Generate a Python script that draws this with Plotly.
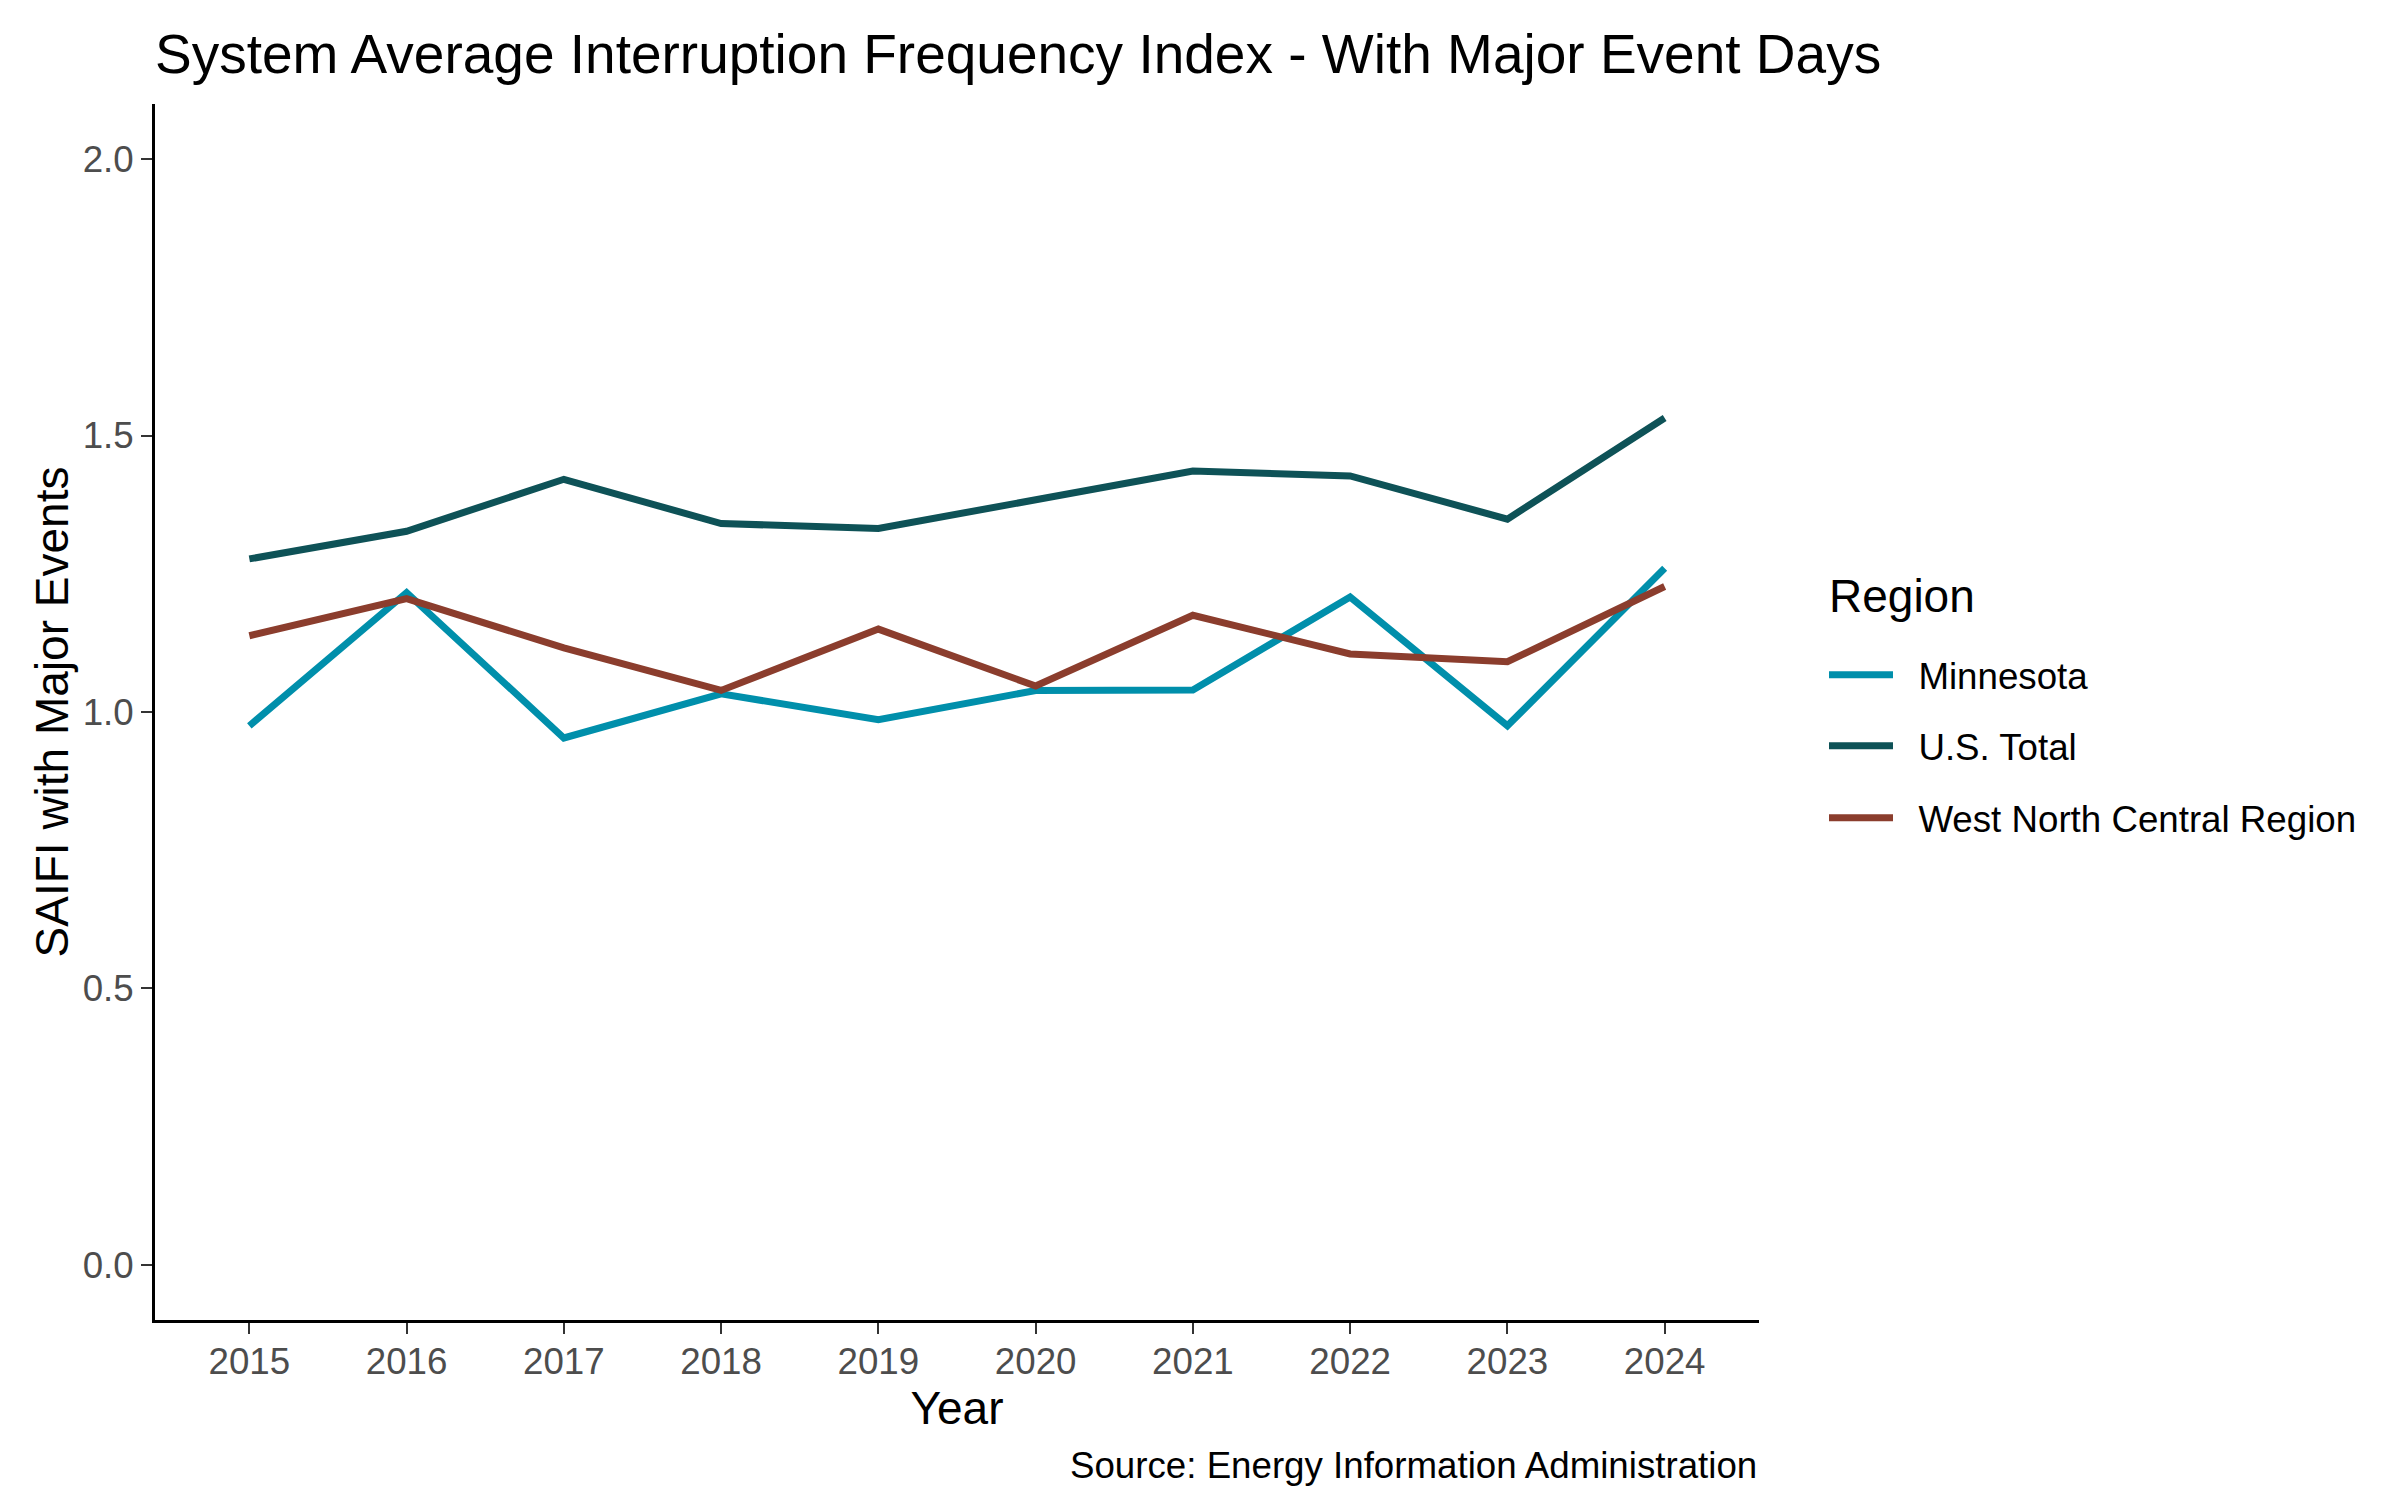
import plotly.graph_objects as go

years = [2015, 2016, 2017, 2018, 2019, 2020, 2021, 2022, 2023, 2024]
minnesota = [0.975, 1.216, 0.953, 1.033, 0.986, 1.039, 1.040, 1.208, 0.975, 1.260]
us_total = [1.277, 1.327, 1.421, 1.341, 1.332, 1.385, 1.436, 1.427, 1.349, 1.532]
west_north_central = [1.138, 1.205, 1.116, 1.039, 1.150, 1.047, 1.175, 1.105, 1.091, 1.227]

series_names = ["Minnesota", "U.S. Total", "West North Central Region"]
series_values = [minnesota, us_total, west_north_central]
series_colors = ["#008FAB", "#0E5257", "#8B3D2D"]

y_ticks = [0.0, 0.5, 1.0, 1.5, 2.0]
y_tick_labels = ["0.0", "0.5", "1.0", "1.5", "2.0"]

FONT = "Liberation Sans, Arial, Helvetica, sans-serif"

W, H = 2400, 1500
ml, mr, mt, mb = 147, 649, 96, 188
pw, ph = W - ml - mr, H - mt - mb

def py(pix_y):
    return (H - mb - pix_y) / ph

def px(pix_x):
    return (pix_x - ml) / pw

legend_ids = ["legend", "legend2", "legend3"]
legend_centers = [667, 738, 810]
NB = "\u00a0\u00a0"

fig = go.Figure()
for name, vals, col, lid in zip(series_names, series_values, series_colors, legend_ids):
    fig.add_trace(go.Scatter(
        x=years, y=vals, mode="lines", name=NB + name,
        line=dict(color=col, width=7),
        legend=lid,
        hovertemplate=name + "<br>%{x}: %{y}<extra></extra>",
    ))

legend_common = dict(
    font=dict(size=36.7, color="black", family=FONT),
    xanchor="left", yanchor="middle",
    bgcolor="rgba(0,0,0,0)",
    itemwidth=64,
    borderwidth=0,
)

layout_legends = {}
for lid, cy in zip(legend_ids, legend_centers):
    layout_legends[lid] = dict(legend_common, x=px(1816), y=py(cy))

fig.update_layout(
    width=W, height=H,
    margin=dict(l=ml, r=mr, t=mt, b=mb, pad=0),
    paper_bgcolor="white", plot_bgcolor="white",
    font=dict(family=FONT, color="black"),
    showlegend=True,
    title=dict(
        text="System Average Interruption Frequency Index - With Major Event Days",
        font=dict(size=55, color="black", family=FONT),
        x=ml / W, xanchor="left", xref="container",
        y=1 - 46 / H, yanchor="middle", yref="container",
    ),
    xaxis=dict(
        range=[2014.4, 2024.6],
        tickmode="array", tickvals=years, ticktext=[str(y) for y in years],
        showgrid=False, zeroline=False,
        showline=True, linecolor="black", linewidth=3,
        ticks="outside", ticklen=11, tickwidth=2, tickcolor="#333333",
        tickfont=dict(size=36.7, color="#4D4D4D", family=FONT),
        ticklabelstandoff=-4,
        title=dict(text="Year", font=dict(size=46, color="black", family=FONT), standoff=0),
    ),
    yaxis=dict(
        range=[-0.1, 2.1],
        tickmode="array", tickvals=y_ticks, ticktext=y_tick_labels,
        showgrid=False, zeroline=False,
        showline=True, linecolor="black", linewidth=3,
        ticks="outside", ticklen=11, tickwidth=2, tickcolor="#333333",
        tickfont=dict(size=36.7, color="#4D4D4D", family=FONT),
        ticklabelstandoff=0,
        title=dict(text="SAIFI with Major Events", font=dict(size=46, color="black", family=FONT), standoff=0),
    ),
    annotations=[
        dict(
            text="Source: Energy Information Administration",
            xref="paper", yref="paper", x=1, xanchor="right",
            y=py(1457), yanchor="middle",
            showarrow=False, font=dict(size=36.7, color="black", family=FONT),
        ),
        dict(
            text="Region",
            xref="paper", yref="paper", x=px(1819), xanchor="left",
            y=py(588), yanchor="middle",
            showarrow=False, font=dict(size=46, color="black", family=FONT),
        ),
    ],
    **layout_legends,
)

fig.write_html("out.html")
